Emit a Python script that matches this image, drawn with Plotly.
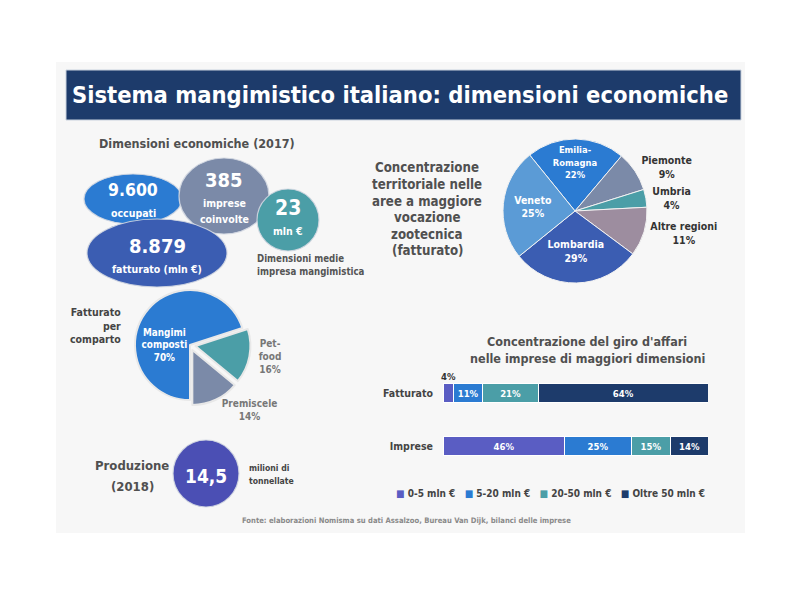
import plotly.graph_objects as go

# ---------------- data ----------------
STAT_VALUES = ["9.600", "385", "23", "8.879"]
STAT_CAPTIONS = [["occupati"], ["imprese", "coinvolte"], ["mln €"], ["fatturato (mln €)"]]

COMPARTO_LABELS = ["Mangimi composti", "Pet-food", "Premiscele"]
COMPARTO_TEXT = ["Mangimi<br>composti", "Pet-<br>food", "Premiscele"]
COMPARTO_VALUES = [70, 16, 14]

REGION_LABELS = ["Emilia-Romagna", "Piemonte", "Umbria", "Altre regioni", "Lombardia", "Veneto"]
REGION_TEXT = ["Emilia-<br>Romagna", "Piemonte", "Umbria", "Altre regioni", "Lombardia", "Veneto"]
REGION_VALUES = [22, 9, 4, 11, 29, 25]

BAR_CATEGORIES = ["Fatturato", "Imprese"]
SIZE_CLASSES = ["0-5 mln €", "5-20 mln €", "20-50 mln €", "Oltre 50 mln €"]
FATTURATO_SHARES = [4, 11, 21, 64]
IMPRESE_SHARES = [46, 25, 15, 14]

PRODUCTION_VALUE = "14,5"
PRODUCTION_UNIT = ["milioni di", "tonnellate"]

TITLE = "Sistema mangimistico italiano: dimensioni economiche"
SOURCE = "Fonte: elaborazioni Nomisma su dati Assalzoo, Bureau Van Dijk, bilanci delle imprese"

# ---------------- style ----------------
FONT = "Liberation Sans Narrow, DejaVu Sans Condensed, Roboto, sans-serif"
NAVY = "#1d3b6b"
BLUE = "#2b7bd2"
GRAYBLUE = "#7b8aa8"
TEAL = "#4b9ea7"
DARKBLUE = "#3b5db2"
LIGHTBLUE = "#5b9bd6"
MAUVE = "#9d8d9f"
INDIGO = "#5a5dc3"
PROD = "#4b4fb4"
TXT = "#505050"

W, H = 800, 600
OFF = 8  # page body margin


def X(v):
    return (v - OFF) / W


def Y(v):
    return 1 - (v - OFF) / H


shapes = []
annotations = []


def text(x, y, s, size, color=TXT, xanchor="center", bold=True):
    annotations.append(dict(
        x=X(x), y=Y(y), xref="paper", yref="paper", text=s, showarrow=False,
        xanchor=xanchor, yanchor="middle", align=xanchor if xanchor != "center" else "center",
        font=dict(family=FONT, size=size, color=color, weight="bold" if bold else "normal")))


def lines(x, y0, dy, items, size, color=TXT, xanchor="center"):
    for i, s in enumerate(items):
        text(x, y0 + i * dy, s, size, color, xanchor)


# panel + banner
shapes.append(dict(type="rect", xref="paper", yref="paper", x0=X(56), x1=X(745), y0=Y(533), y1=Y(62),
                   fillcolor="#f7f7f7", line=dict(width=0), layer="below"))
shapes.append(dict(type="rect", xref="paper", yref="paper", x0=X(66), x1=X(741), y0=Y(120), y1=Y(70),
                   fillcolor=NAVY, line=dict(color="#c9d2de", width=1), layer="below"))
text(70, 95, TITLE, 23.5, "white", "left")

# ---------------- economic dimension bubbles ----------------
text(197, 143, "Dimensioni economiche (2017)", 12.5)
bubble_specs = [  # cx, cy, rx, ry, color, value_y, caption_y0, value_size
    (133, 199, 49, 25, BLUE, 190, 213, 17.5),
    (224, 196, 45, 38, GRAYBLUE, 180, 203, 20),
    (288, 220, 31, 31, TEAL, 208, 231, 21),
    (157, 253, 70, 34, DARKBLUE, 246, 269, 20),
]
for (cx, cy, rx, ry, col, vy, cy0, vs), val, caps in zip(bubble_specs, STAT_VALUES, STAT_CAPTIONS):
    shapes.append(dict(type="circle", xref="paper", yref="paper", x0=X(cx - rx), x1=X(cx + rx),
                       y0=Y(cy + ry), y1=Y(cy - ry), fillcolor=col,
                       line=dict(color="rgba(210,215,225,0.9)", width=1.2), layer="above"))
    text(cx, vy, val, vs, "white")
    lines(cx, cy0, 16, caps, 10.5, "white")
lines(255, 258, 14, ["Dimensioni medie", "impresa mangimistica"], 9.6, "#555555", "left")

# ---------------- production ----------------
lines(132, 465, 21, ["Produzione", "(2018)"], 13)
shapes.append(dict(type="circle", xref="paper", yref="paper", x0=X(173), x1=X(239), y0=Y(507), y1=Y(440),
                   fillcolor=PROD, line=dict(color="rgba(210,215,225,0.9)", width=1.2), layer="above"))
text(206, 476, PRODUCTION_VALUE, 19, "white")
lines(247, 468, 13, PRODUCTION_UNIT, 8.6, "#444444", "left")

# ---------------- territorial text ----------------
lines(427, 168, 16.5, ["Concentrazione", "territoriale nelle", "aree a maggiore", "vocazione",
                       "zootecnica", "(fatturato)"], 13.2)

# ---------------- bar title ----------------
lines(587, 341, 17, ["Concentrazione del giro d'affari", "nelle imprese di maggiori dimensioni"], 12.5)
text(123, 325, "Fatturato<br>per<br>comparto", 10.5, "#444444", "right")
text(406, 520, SOURCE, 7.6, "#8a8a8a")

fig = go.Figure()

# pie: fatturato per comparto
pull = 0.1
r1 = 55
fig.add_trace(go.Pie(
    labels=COMPARTO_LABELS, values=COMPARTO_VALUES, customdata=COMPARTO_TEXT,
    texttemplate="%{customdata}<br>%{value}%", sort=False, direction="clockwise", rotation=180,
    pull=[0, pull, pull], marker=dict(colors=[BLUE, TEAL, GRAYBLUE], line=dict(color="#e8e8e8", width=2)),
    textposition=["inside", "outside", "outside"], insidetextorientation="horizontal",
    insidetextfont=dict(family=FONT, size=10, color="white", weight="bold"),
    outsidetextfont=dict(family=FONT, size=10, color="#777777", weight="bold"),
    domain=dict(x=[X(190 - r1 * (1 + pull)), X(190 + r1 * (1 + pull))],
                y=[Y(345 + r1 * (1 + pull)), Y(345 - r1 * (1 + pull))]),
    showlegend=False, hoverinfo="label+value"))

# pie: regions
r2 = 72
fig.add_trace(go.Pie(
    labels=REGION_LABELS, values=REGION_VALUES, customdata=REGION_TEXT,
    texttemplate="%{customdata}<br>%{value}%", sort=False, direction="clockwise", rotation=-39,
    marker=dict(colors=[BLUE, GRAYBLUE, TEAL, MAUVE, DARKBLUE, LIGHTBLUE], line=dict(color="#f2f2f2", width=1)),
    textposition=["inside", "outside", "outside", "outside", "inside", "inside"],
    insidetextorientation="horizontal",
    insidetextfont=dict(family=FONT, size=10.5, color="white", weight="bold"),
    outsidetextfont=dict(family=FONT, size=10.5, color="#333333", weight="bold"),
    domain=dict(x=[X(575 - r2), X(575 + r2)], y=[Y(211 + r2), Y(211 - r2)]),
    showlegend=False, hoverinfo="label+value"))

# stacked bars
bar_colors = [INDIGO, BLUE, TEAL, NAVY]
for i, cls in enumerate(SIZE_CLASSES):
    vals = [FATTURATO_SHARES[i], IMPRESE_SHARES[i]]
    fig.add_trace(go.Bar(
        y=BAR_CATEGORIES, x=vals, orientation="h", name=cls, width=0.36,
        marker=dict(color=bar_colors[i], line=dict(color="white", width=1)),
        text=[f"{v}%" for v in vals],
        textposition=["none" if v < 6 else "inside" for v in vals],
        insidetextanchor="middle", textangle=0,
        textfont=dict(family=FONT, size=9.5, color="white", weight="bold"),
        showlegend=False))

annotations.append(dict(x=FATTURATO_SHARES[0] / 2, y="Fatturato", xref="x", yref="y",
                        text=f"{FATTURATO_SHARES[0]}%", showarrow=False, yshift=17,
                        font=dict(family=FONT, size=9.5, color="#333333", weight="bold")))

legend_txt = "   ".join(
    f'<span style="color:{c}">■</span> {s}' for c, s in zip(bar_colors, SIZE_CLASSES))
text(550, 493, legend_txt, 10, "#444444")

fig.update_layout(
    width=W, height=H, margin=dict(l=0, r=0, t=0, b=0),
    paper_bgcolor="white", plot_bgcolor="rgba(0,0,0,0)",
    barmode="stack", showlegend=False,
    xaxis=dict(domain=[X(443), X(708)], range=[0, 100], visible=False, fixedrange=True),
    yaxis=dict(domain=[Y(472.5), Y(366.5)], range=[-0.5, 1.5],
               categoryorder="array", categoryarray=BAR_CATEGORIES[::-1],
               showgrid=False, zeroline=False, showline=False, ticks="", ticklabelstandoff=9,
               tickfont=dict(family=FONT, size=10.5, color="#444444", weight="bold")),
    shapes=shapes, annotations=annotations,
)

fig.write_html("out.html")
